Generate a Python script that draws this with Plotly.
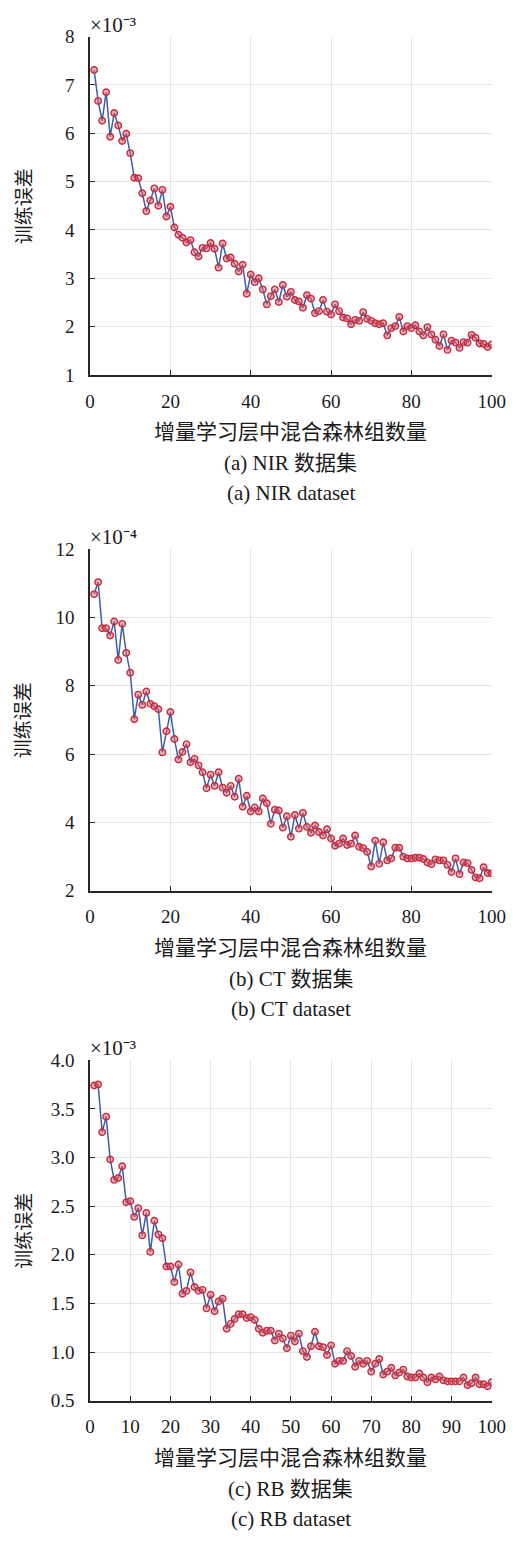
import plotly.graph_objects as go

# ---- data -------------------------------------------------------------
n_groups = list(range(1, 101))

# NIR training error (x 1e-3)
nir_err = [7.31, 6.67, 6.26, 6.85, 5.93, 6.42, 6.16, 5.84, 5.99, 5.59,
           5.08, 5.07, 4.76, 4.39, 4.61, 4.86, 4.50, 4.83, 4.28, 4.48,
           4.05, 3.90, 3.84, 3.74, 3.79, 3.54, 3.45, 3.63, 3.62, 3.73,
           3.61, 3.22, 3.72, 3.41, 3.43, 3.30, 3.14, 3.28, 2.68, 3.08,
           2.92, 3.00, 2.77, 2.46, 2.63, 2.77, 2.51, 2.86, 2.62, 2.72,
           2.55, 2.52, 2.39, 2.65, 2.58, 2.28, 2.32, 2.55, 2.31, 2.25,
           2.46, 2.32, 2.19, 2.17, 2.05, 2.14, 2.12, 2.30, 2.16, 2.12,
           2.07, 2.05, 2.07, 1.82, 1.97, 2.01, 2.20, 1.90, 2.01, 1.97,
           2.03, 1.90, 1.82, 1.99, 1.84, 1.73, 1.60, 1.84, 1.52, 1.71,
           1.67, 1.56, 1.68, 1.67, 1.83, 1.77, 1.65, 1.64, 1.58, 1.63]

# CT training error (x 1e-4)
ct_err = [10.68, 11.03, 9.68, 9.68, 9.47, 9.88, 8.75, 9.81, 8.96, 8.38,
          7.02, 7.74, 7.44, 7.83, 7.47, 7.40, 7.31, 6.05, 6.67, 7.23,
          6.44, 5.84, 6.06, 6.29, 5.76, 5.86, 5.67, 5.47, 5.00, 5.40,
          5.07, 5.47, 5.02, 4.87, 5.07, 4.75, 5.28, 4.46, 4.78, 4.32,
          4.44, 4.32, 4.70, 4.56, 3.96, 4.37, 4.35, 3.85, 4.18, 3.58,
          4.22, 3.82, 4.28, 3.87, 3.70, 3.91, 3.72, 3.62, 3.80, 3.53,
          3.32, 3.38, 3.53, 3.34, 3.38, 3.62, 3.29, 3.25, 3.14, 2.71,
          3.47, 2.79, 3.42, 2.89, 2.95, 3.26, 3.26, 3.00, 2.95, 2.95,
          2.97, 2.97, 2.93, 2.83, 2.78, 2.92, 2.89, 2.89, 2.76, 2.55,
          2.95, 2.49, 2.83, 2.81, 2.61, 2.39, 2.37, 2.69, 2.52, 2.51]

# RB training error (x 1e-3)
rb_err = [3.74, 3.75, 3.26, 3.42, 2.98, 2.77, 2.79, 2.91, 2.54, 2.55,
          2.39, 2.48, 2.20, 2.43, 2.03, 2.35, 2.21, 2.17, 1.88, 1.88,
          1.72, 1.90, 1.60, 1.63, 1.82, 1.67, 1.63, 1.64, 1.45, 1.59,
          1.42, 1.52, 1.55, 1.24, 1.29, 1.34, 1.39, 1.39, 1.35, 1.36,
          1.33, 1.24, 1.20, 1.22, 1.22, 1.12, 1.19, 1.14, 1.04, 1.17,
          1.11, 1.19, 1.01, 0.95, 1.06, 1.21, 1.06, 1.05, 0.97, 1.07,
          0.88, 0.91, 0.91, 1.01, 0.96, 0.85, 0.91, 0.88, 0.91, 0.80,
          0.88, 0.93, 0.77, 0.80, 0.84, 0.76, 0.79, 0.82, 0.75, 0.74,
          0.74, 0.78, 0.74, 0.69, 0.74, 0.72, 0.75, 0.71, 0.70, 0.70,
          0.70, 0.70, 0.74, 0.66, 0.68, 0.74, 0.67, 0.67, 0.65, 0.69]

panels = [
    dict(y=nir_err, yrange=[1, 8], yticks=[1, 2, 3, 4, 5, 6, 7, 8], yfmt="d",
         xticks=[0, 20, 40, 60, 80, 100], exp="×10⁻³",
         cap_cn="(a) NIR 数据集", cap_en="(a) NIR dataset", top=27, bottom=370),
    dict(y=ct_err, yrange=[2, 12], yticks=[2, 4, 6, 8, 10, 12], yfmt="d",
         xticks=[0, 20, 40, 60, 80, 100], exp="×10⁻⁴",
         cap_cn="(b) CT 数据集", cap_en="(b) CT dataset", top=546.4, bottom=893),
    dict(y=rb_err, yrange=[0.5, 4.0], yticks=[0.5, 1.0, 1.5, 2.0, 2.5, 3.0, 3.5, 4.0], yfmt=".1f",
         xticks=list(range(0, 101, 10)), exp="×10⁻³",
         cap_cn="(c) RB 数据集", cap_en="(c) RB dataset", top=1064.7, bottom=1410),
]

# ---- layout -----------------------------------------------------------
W, H = 523, 1542
X0, X1 = 88.3, 505.0
SERIF = "Liberation Serif, Times New Roman, serif"
CJK = "Noto Sans CJK SC"
AXIS_COLOR = "#262626"
GRID_COLOR = "#e4e4e4"
TEXT_COLOR = "#1a1a1a"
LINE_BLUE = "#3d5da8"
MARK_RED = "#c62b3a"
XLABEL = "增量学习层中混合森林组数量"
YLABEL = "训练误差"


def py(px):
    return 1 - px / H


fig = go.Figure()
annotations = []
xcenter = (X0 + X1) / 2 / W

for i, p in enumerate(panels, start=1):
    suffix = "" if i == 1 else str(i)
    fig.add_trace(go.Scatter(
        x=n_groups, y=p["y"], mode="lines+markers",
        xaxis="x" + suffix, yaxis="y" + suffix,
        line=dict(color=LINE_BLUE, width=1.5),
        marker=dict(symbol="circle", size=6.5, color="rgba(220,100,115,0.5)",
                    line=dict(color=MARK_RED, width=1.4)),
        showlegend=False,
    ))
    xa = dict(
        domain=[X0 / W, X1 / W], range=[0, 100], anchor="y" + suffix,
        tickmode="array", tickvals=p["xticks"], ticks="inside", ticklen=5,
        tickwidth=1.3, tickcolor=AXIS_COLOR, showline=True, linecolor=AXIS_COLOR,
        linewidth=1.6, showgrid=True, gridcolor=GRID_COLOR, gridwidth=1,
        zeroline=False, tickfont=dict(family=SERIF, size=19, color=TEXT_COLOR),
        ticklabelstandoff=8,
    )
    ya = dict(
        domain=[py(p["bottom"]), py(p["top"])], range=p["yrange"], anchor="x" + suffix,
        tickmode="array", tickvals=p["yticks"], tickformat=p["yfmt"],
        ticks="inside", ticklen=5, tickwidth=1.3, tickcolor=AXIS_COLOR,
        showline=True, linecolor=AXIS_COLOR, linewidth=1.6,
        showgrid=True, gridcolor=GRID_COLOR, gridwidth=1, zeroline=False,
        tickfont=dict(family=SERIF, size=19, color=TEXT_COLOR),
        ticklabelstandoff=10,
    )
    fig.update_layout(**{"xaxis" + suffix: xa, "yaxis" + suffix: ya})

    mid = (p["top"] + p["bottom"]) / 2
    annotations += [
        # scale factor above the y axis
        dict(text=p["exp"], x=X0 / W - 0.004, y=py(p["top"] - 12), xanchor="left",
             yanchor="middle", font=dict(family=SERIF, size=21, color=TEXT_COLOR)),
        # y-axis title
        dict(text=YLABEL, x=18 / W, y=py(mid), textangle=-90, xanchor="center",
             yanchor="middle", font=dict(family=CJK, size=19, color=TEXT_COLOR)),
        # x-axis title and captions
        dict(text=XLABEL, x=xcenter, y=py(p["bottom"] + 56), xanchor="center",
             yanchor="middle", font=dict(family=CJK, size=21, color=TEXT_COLOR)),
        dict(text=p["cap_cn"], x=xcenter, y=py(p["bottom"] + 89), xanchor="center",
             yanchor="middle", font=dict(family=SERIF + ", " + CJK, size=21, color=TEXT_COLOR)),
        dict(text=p["cap_en"], x=xcenter, y=py(p["bottom"] + 120), xanchor="center",
             yanchor="middle", font=dict(family=SERIF, size=21, color=TEXT_COLOR)),
    ]

for a in annotations:
    a.update(xref="paper", yref="paper", showarrow=False)

fig.update_layout(
    width=W, height=H, autosize=False,
    margin=dict(l=0, r=0, t=0, b=0),
    paper_bgcolor="white", plot_bgcolor="white",
    annotations=annotations,
)

fig.write_html("out.html")
